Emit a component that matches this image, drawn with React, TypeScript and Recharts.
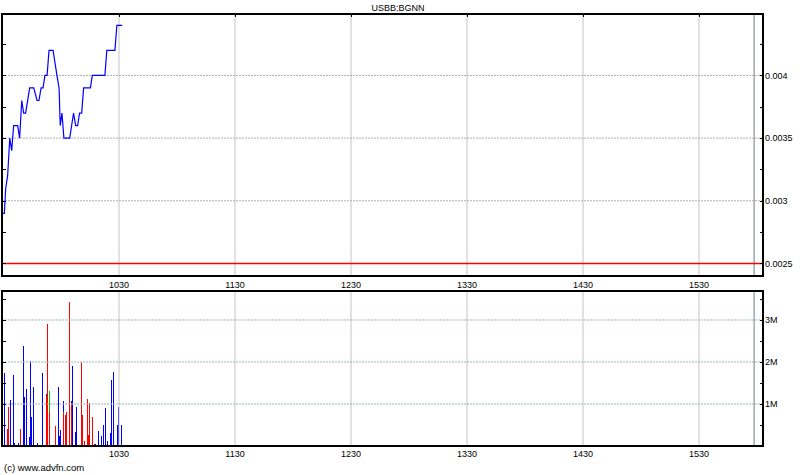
import React from "react";
import { LineChart, Line, BarChart, Bar, XAxis, YAxis, ReferenceLine } from "recharts";

const FONT = "'Liberation Sans', Arial, Helvetica, sans-serif";

// x values are minutes after 09:30
const hourTicks = [60, 120, 180, 240, 300, 360];
const hourLabels = ["1030", "1130", "1230", "1330", "1430", "1530"];
const sessionEnd = 388.5;

const priceTimes = [
  0, 0.7, 1.4, 2.4, 3.5, 4.5, 5.5, 7.6, 8.6, 9.7, 10.7, 11.7, 13.8, 15.9, 17.6, 18.6, 19.7, 20.7, 21.7, 22.8,
  23.8, 25.9, 26.9, 27.9, 29.0, 29.6, 30.5, 31.5, 34.5, 36.5, 37.6, 38.6, 39.6, 40.7, 41.7, 45.2, 46.2, 52.7,
  53.7, 57.9, 58.9, 61.6,
];
const priceValues = [
  0.0029, 0.0029, 0.0031, 0.0032, 0.0035, 0.0034, 0.0036, 0.0036, 0.0035, 0.0038, 0.0037, 0.0037, 0.0039,
  0.0039, 0.0038, 0.0038, 0.0039, 0.0039, 0.004, 0.004, 0.0042, 0.0042, 0.0041, 0.004, 0.0039, 0.0036, 0.0037,
  0.0035, 0.0035, 0.0037, 0.0036, 0.0036, 0.0037, 0.0037, 0.0039, 0.0039, 0.004, 0.004, 0.0042, 0.0042, 0.0044,
  0.0044,
];
const prevClose = 0.0025;
const priceMajor = [0.0025, 0.003, 0.0035, 0.004];
const priceTicks = [0.0025, 0.00275, 0.003, 0.00325, 0.0035, 0.00375, 0.004, 0.00425];

// volume in millions, split by trade direction colour
const volTimes = [
  0, 1.05, 2.1, 3.1, 4.15, 5.2, 6.2, 8.3, 9.3, 10.4, 11.4, 12.4, 13.5, 14.5, 15.0, 16.0, 18.1, 20.2, 22.3, 23.3,
  24.3, 27.4, 28.5, 29.5, 30.0, 31.1, 32.1, 33.1, 34.2, 35.2, 36.2, 37.3, 38.3, 40.4, 41.4, 42.4, 43.5, 44.5,
  45.0, 46.1, 47.1, 48.1, 49.2, 51.2, 52.2, 53.3, 54.3, 55.4, 56.4, 57.4, 59.5, 60.0, 61.1,
];
const volRed = [
  0, 0, 0.4, 0.92, 0, 0, 0, 0, 0.4, 0, 0, 0, 0, 0, 0, 0, 0, 0, 1.19, 2.9, 0.81, 0.48, 0, 0, 0, 0.78, 0.74, 0.8,
  3.43, 1.01, 0, 0, 0, 2.0, 0.74, 0.11, 1.13, 0.26, 1.03, 0.69, 0.04, 0, 0, 0, 0, 0, 0, 0, 0, 0, 0, 0, 0,
];
const volGreen = [
  0, 0, 0, 0, 0, 0, 0, 0, 0, 0, 0, 0, 0, 0, 0, 0, 0, 0, 0, 0, 0.49, 0, 0, 0, 0, 0.03, 0, 0, 0, 0, 0, 0, 0, 0, 0,
  0, 0, 0, 0, 0, 0, 0, 0, 0, 0, 0, 0, 0, 0, 0, 0, 0, 0,
];
const volBlue = [
  0.26, 1.73, 0, 0, 1.09, 1.69, 0.07, 0.07, 0, 2.39, 1.16, 1.35, 0.22, 2.02, 0.68, 1.4, 0.07, 1.73, 0.04, 0, 0,
  0, 1.4, 0.24, 0.38, 0.25, 0, 0, 0, 0.05, 1.9, 0.33, 0.92, 0, 0, 0, 0, 0, 0, 0, 0, 0.04, 0.35, 0.23, 0.5, 0.91,
  0.11, 0.31, 1.56, 1.76, 0.5, 0.94, 0.5,
];
const volMajor = [1, 2, 3];
const volTicks = [0.5, 1, 1.5, 2, 2.5, 3, 3.5];

const priceRows = priceTimes.map((t, i) => ({ t, p: priceValues[i] }));
const volRows = volTimes.map((t, i) => ({
  t,
  red: volRed[i],
  green: volGreen[i],
  blue: volBlue[i],
  total: volRed[i] + volGreen[i] + volBlue[i],
}));

const PLOT_W = 760;
const PRICE_H = 262;
const X_DOMAIN: [number, number] = [0, 393.1];

function TimeTick({ x, y, payload, markTop }: any) {
  const i = hourTicks.indexOf(payload.value);
  const top = y - 6 - PRICE_H;
  const cx = Math.round(x) + 0.5;
  return (
    <g>
      {markTop ? <line x1={cx} x2={cx} y1={top} y2={top + 3} stroke="#000" /> : null}
      <text x={x} y={y} dy="0.71em" textAnchor="middle" fontSize={9} fill="#000" fontFamily={FONT}>
        {hourLabels[i]}
      </text>
    </g>
  );
}

function ValueTick({ x, y, payload, majors, fmt }: any) {
  const v = payload.value;
  const right = x - 2;
  const cy = Math.round(y) + 0.5;
  const isMajor = majors.some((m: number) => Math.abs(m - v) < 1e-9);
  return (
    <g>
      <line x1={right - 3} x2={right} y1={cy} y2={cy} stroke="#000" />
      <line x1={right - PLOT_W} x2={right - PLOT_W + 3} y1={cy} y2={cy} stroke="#000" />
      {isMajor ? (
        <text x={x} y={y} dy="0.35em" textAnchor="start" fontSize={9} fill="#000" fontFamily={FONT}>
          {fmt(v)}
        </text>
      ) : null}
    </g>
  );
}

// one-pixel volume bar: red at the bottom, then green, then blue
function VolumeBar(props: any) {
  const { x, y, width, height, payload } = props;
  if (!height || height <= 0 || !payload) return <g />;
  const px = Math.round(x + width / 2 - 0.5);
  const perUnit = height / payload.total;
  const base = y + height;
  const parts = [
    { v: payload.red, c: "#ff0000" },
    { v: payload.green, c: "#00c000" },
    { v: payload.blue, c: "#0000ff" },
  ];
  let acc = 0;
  return (
    <g>
      {parts.map((s, i) => {
        if (!s.v) return null;
        const b = Math.round(base - acc * perUnit);
        acc += s.v;
        const t = Math.round(base - acc * perUnit);
        return <rect key={i} x={px} y={t} width={1} height={Math.max(1, b - t)} fill={s.c} />;
      })}
    </g>
  );
}

const frame = (top: number, height: number): React.CSSProperties => ({
  position: "absolute",
  left: 1,
  top,
  width: 763,
  height,
  border: "2px solid #000",
  boxSizing: "border-box",
  pointerEvents: "none",
});

export default function App() {
  return (
    <div
      style={{
        position: "absolute",
        left: 0,
        top: 0,
        width: 800,
        height: 475,
        background: "#fff",
        fontFamily: FONT,
        overflow: "hidden",
      }}
    >
      <div
        style={{
          position: "absolute",
          left: 0,
          top: 1,
          width: 796,
          textAlign: "center",
          fontSize: 9,
          lineHeight: "14px",
          color: "#000",
        }}
      >
        USBB:BGNN
      </div>

      <div style={{ position: "absolute", left: 0, top: 0 }}>
        <LineChart width={800} height={290} data={priceRows} margin={{ top: 14, right: 0, bottom: 0, left: 3 }}>
          <XAxis
            dataKey="t"
            type="number"
            domain={X_DOMAIN}
            allowDataOverflow
            ticks={hourTicks}
            interval={0}
            height={14}
            tickSize={4}
            tickMargin={2}
            axisLine={false}
            tickLine={false}
            tick={<TimeTick markTop />}
          />
          <YAxis
            orientation="right"
            type="number"
            domain={[0.0024, 0.00449]}
            allowDataOverflow
            ticks={priceTicks}
            interval={0}
            width={37}
            tickSize={0}
            tickMargin={2}
            axisLine={false}
            tickLine={false}
            tick={<ValueTick majors={priceMajor} fmt={(v: number) => String(v)} />}
          />
          {hourTicks.map((h) => (
            <ReferenceLine key={"v" + h} x={h} stroke="#c4c4c4" />
          ))}
          <ReferenceLine x={sessionEnd} stroke="#6f7f7f" />
          {priceMajor
            .filter((v) => v !== prevClose)
            .map((v) => (
              <ReferenceLine key={"h" + v} y={v} stroke="#b0b0a8" strokeDasharray="2 1" />
            ))}
          <ReferenceLine y={prevClose} stroke="#ff0000" strokeWidth={1.4} />
          <Line
            type="linear"
            dataKey="p"
            stroke="#0000ff"
            strokeWidth={1.2}
            dot={false}
            isAnimationActive={false}
          />
        </LineChart>
      </div>
      <div style={frame(13, 264)} />

      <div style={{ position: "absolute", left: 0, top: 276 }}>
        <BarChart width={800} height={199} data={volRows} margin={{ top: 14, right: 0, bottom: 15, left: 3 }}>
          <XAxis
            dataKey="t"
            type="number"
            domain={X_DOMAIN}
            allowDataOverflow
            ticks={hourTicks}
            interval={0}
            height={14}
            tickSize={4}
            tickMargin={1}
            axisLine={false}
            tickLine={false}
            tick={<TimeTick />}
          />
          <YAxis
            orientation="right"
            type="number"
            domain={[0, 3.714]}
            allowDataOverflow
            ticks={volTicks}
            interval={0}
            width={37}
            tickSize={0}
            tickMargin={2}
            axisLine={false}
            tickLine={false}
            tick={<ValueTick majors={volMajor} fmt={(v: number) => v + "M"} />}
          />
          {hourTicks.map((h) => (
            <ReferenceLine key={"v" + h} x={h} stroke="#c4c4c4" />
          ))}
          <ReferenceLine x={sessionEnd} stroke="#6f7f7f" />
          {volMajor.map((v) => (
            <ReferenceLine key={"h" + v} y={v} stroke="#98b8b8" strokeDasharray="2 1" />
          ))}
          <Bar dataKey="total" barSize={1} shape={VolumeBar} isAnimationActive={false} />
        </BarChart>
      </div>
      <div style={frame(290, 157)} />

      <div
        style={{
          position: "absolute",
          left: 4,
          top: 462,
          fontSize: 9.5,
          lineHeight: "12px",
          color: "#000",
          whiteSpace: "nowrap",
        }}
      >
        (c) www.advfn.com
      </div>
    </div>
  );
}
